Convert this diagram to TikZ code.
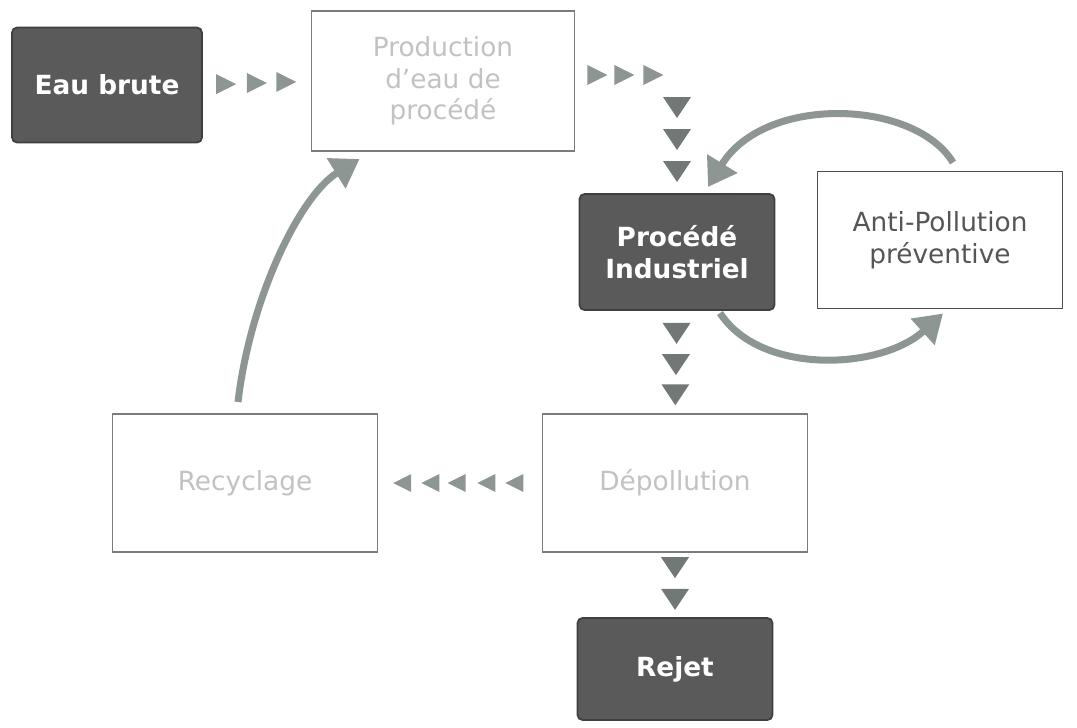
\documentclass[tikz,border=0pt]{standalone}
\usepackage{fontspec}
\setmainfont{DejaVu Sans}
\usetikzlibrary{positioning}
\usetikzlibrary{calc}
\usetikzlibrary{arrows.meta}
\definecolor{boxdark}{HTML}{5A5A5A}
\definecolor{boxline}{HTML}{7C7C7C}
\definecolor{txtpale}{HTML}{C2C2C2}
\definecolor{txtmid}{HTML}{555555}
\definecolor{flowgray}{HTML}{8E9694}
\tikzstyle{main}     = [inner sep=0pt, outer sep=0pt, align=center, font=\fontsize{15}{18}\selectfont]
\tikzstyle{cdark}    = [main, fill=boxdark, draw=boxdark!70!black, line width=1pt, rounded corners=1mm, text=white, font=\fontsize{15}{18}\selectfont\bfseries]
\tikzstyle{clight}   = [main, fill=white, draw=boxline, line width=1pt, text=txtpale]
\tikzstyle{canti}    = [main, fill=white, draw=black!70, line width=1pt, text=txtmid]
\tikzstyle{loopline} = [draw=flowgray, line width=4pt, -{Triangle[length=0.55cm,width=0.68cm]}]
\tikzset{
  triright/.pic={\fill[flowgray] (-10,-10) -- (10,0) -- (-10,10) -- cycle;},
  trileft/.pic={\fill[flowgray] (9,-9) -- (-9,0) -- (9,9) -- cycle;},
  tridown/.pic={\fill[flowgray!80!black] (-14,-10) -- (14,-10) -- (0,11) -- cycle;}
}

\begin{document}
\begin{tikzpicture}[x=0.02cm, y=-0.02cm]
  \useasboundingbox (0,0) rectangle (1077,727);
  % boxes
  \node[cdark,  minimum width=3.8cm,  minimum height=2.3cm]  (eau)   at (107,85)  {Eau brute};
  \node[clight, minimum width=5.26cm, minimum height=2.8cm]  (prod)  at (443,81)  {Production\\d'eau de\\procédé};
  \node[cdark,  minimum width=3.9cm,  minimum height=2.32cm] (proc)  at (677,252) {Procédé\\Industriel};
  \node[canti,  minimum width=4.9cm,  minimum height=2.74cm] (anti)  at (940,240) {Anti-Pollution\\préventive};
  \node[clight, minimum width=5.3cm,  minimum height=2.76cm] (depol) at (675,483) {Dépollution};
  \node[clight, minimum width=5.3cm,  minimum height=2.76cm] (recyc) at (245,483) {Recyclage};
  \node[cdark,  minimum width=3.9cm,  minimum height=2.04cm] (rejet) at (675,669) {Rejet};

  % flow marks
  \coordinate (turn) at ($(proc.north |- prod.east)+(0,-6)$);
  \foreach \t in {0.22,0.5,0.77}
    \pic at ($(eau.east)!\t!(prod.west)$) {triright};
  \foreach \d in {23,50,79}
    \pic at ($(prod.east)+(\d,-6)$) {triright};
  \foreach \d in {32,64,96}
    \pic at ($(turn)+(0,\d)$) {tridown};
  \foreach \t in {0.22,0.52,0.81}
    \pic at ($(proc.south)!\t!(depol.north)$) {tridown};
  \foreach \t in {0.23,0.71}
    \pic at ($(depol.south)!\t!(rejet.north)$) {tridown};
  \foreach \t in {0.17,0.34,0.52,0.68,0.85}
    \pic at ($(depol.west)!\t!(recyc.east)$) {trileft};

  % loops
  \draw[loopline] ($(recyc.north)+(-7,-12)$) .. controls +(12,-103) and +(-60,37) .. ($(prod.south west)+(48,8)$);
  \draw[loopline] ($(anti.north)+(13,-9)$) .. controls +(-38,-63) and +(57,-93) .. ($(proc.north)+(31,-7)$);
  \draw[loopline] ($(proc.south)+(43,3)$) .. controls +(40,62) and +(-63,57) .. ($(anti.south)+(3,5)$);
\end{tikzpicture}
\end{document}
